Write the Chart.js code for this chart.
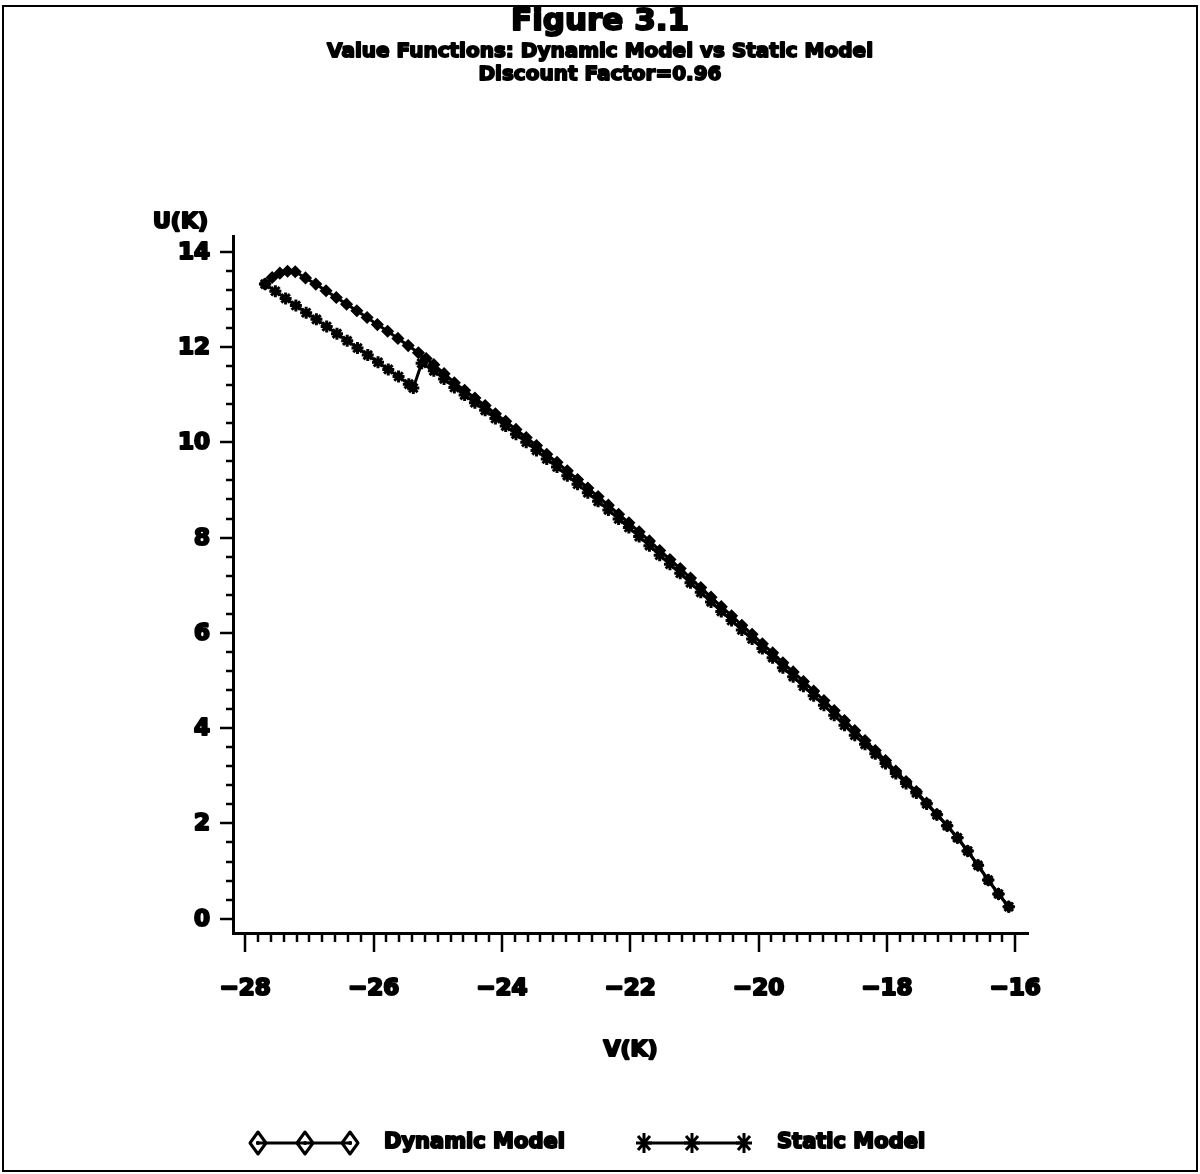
<!DOCTYPE html>
<html>
<head>
<meta charset="utf-8">
<title>Figure 3.1</title>
<script src="https://cdn.jsdelivr.net/npm/chart.js@4.4.1/dist/chart.umd.min.js"></script>
<style>
    html, body { margin: 0; padding: 0; background: #fff; }
    #wrap { width: 1200px; height: 1174px; }
</style>
</head>
<body>
<div id="wrap"><canvas id="valueChart" width="1200" height="1174"></canvas></div>
<script>
// Dynamic model: upper loop branch, then the main curve
const dynamicV = [
    -27.69, -27.58, -27.46, -27.34, -27.22, -27.06, -26.90, -26.74, -26.58, -26.42,
    -26.26, -26.10, -25.94, -25.78, -25.62, -25.46, -25.30, -25.18,
    -25.06, -24.90, -24.74, -24.58, -24.42, -24.26, -24.10, -23.94, -23.78, -23.62,
    -23.46, -23.30, -23.14, -22.98, -22.82, -22.66, -22.50, -22.34, -22.18, -22.02,
    -21.86, -21.70, -21.54, -21.38, -21.22, -21.06, -20.90, -20.74, -20.58, -20.42,
    -20.26, -20.10, -19.94, -19.78, -19.62, -19.46, -19.30, -19.14, -18.98, -18.82,
    -18.66, -18.50, -18.34, -18.18, -18.02, -17.86, -17.70, -17.54, -17.38, -17.22,
    -17.06, -16.90, -16.74, -16.58, -16.42, -16.26, -16.10,
]
const dynamicU = [
    13.32, 13.46, 13.55, 13.59, 13.58, 13.45, 13.32, 13.18, 13.04, 12.90,
    12.76, 12.62, 12.47, 12.33, 12.18, 12.03, 11.88, 11.76,
    11.63, 11.44, 11.25, 11.09, 10.93, 10.77, 10.60, 10.44, 10.27, 10.10,
    9.93, 9.75, 9.58, 9.40, 9.22, 9.04, 8.86, 8.68, 8.49, 8.31,
    8.12, 7.93, 7.73, 7.54, 7.35, 7.15, 6.95, 6.75, 6.55, 6.36,
    6.16, 5.97, 5.77, 5.58, 5.37, 5.18, 4.98, 4.78, 4.58, 4.37,
    4.16, 3.95, 3.74, 3.53, 3.32, 3.10, 2.88, 2.67, 2.43, 2.19,
    1.95, 1.70, 1.42, 1.12, 0.81, 0.52, 0.25,
]

// Static model: lower branch with the dip, then the main curve
const staticV = [
    -27.69, -27.53, -27.37, -27.21, -27.05, -26.89, -26.73, -26.57, -26.41, -26.25,
    -26.09, -25.93, -25.77, -25.61, -25.45, -25.38, -25.25,
    -25.06, -24.90, -24.74, -24.58, -24.42, -24.26, -24.10, -23.94, -23.78, -23.62,
    -23.46, -23.30, -23.14, -22.98, -22.82, -22.66, -22.50, -22.34, -22.18, -22.02,
    -21.86, -21.70, -21.54, -21.38, -21.22, -21.06, -20.90, -20.74, -20.58, -20.42,
    -20.26, -20.10, -19.94, -19.78, -19.62, -19.46, -19.30, -19.14, -18.98, -18.82,
    -18.66, -18.50, -18.34, -18.18, -18.02, -17.86, -17.70, -17.54, -17.38, -17.22,
    -17.06, -16.90, -16.74, -16.58, -16.42, -16.26, -16.10,
]
const staticU = [
    13.32, 13.17, 13.02, 12.87, 12.72, 12.58, 12.43, 12.28, 12.13, 11.98,
    11.83, 11.68, 11.53, 11.38, 11.22, 11.14, 11.66,
    11.50, 11.33, 11.15, 10.99, 10.83, 10.67, 10.50, 10.34, 10.17, 10.00,
    9.83, 9.65, 9.48, 9.30, 9.12, 8.94, 8.76, 8.58, 8.39, 8.21,
    8.02, 7.83, 7.63, 7.44, 7.25, 7.05, 6.85, 6.65, 6.45, 6.26,
    6.06, 5.87, 5.67, 5.48, 5.27, 5.08, 4.88, 4.68, 4.48, 4.27,
    4.06, 3.85, 3.66, 3.46, 3.26, 3.05, 2.84, 2.64, 2.41, 2.18,
    1.95, 1.70, 1.42, 1.12, 0.81, 0.52, 0.25,
]

const xTickValues = [-28, -26, -24, -22, -20, -18, -16]
const yTickValues = [0, 2, 4, 6, 8, 10, 12, 14]

const titleLines = [
    'Figure 3.1',
    'Value Functions: Dynamic Model vs Static Model',
    'Discount Factor=0.96',
]
const seriesNames = ['Dynamic Model', 'Static Model']

const FONT = '"DejaVu Sans", "Liberation Sans", sans-serif'

function toPoints(xs, ys) {
    return xs.map((x, i) => ({ x, y: ys[i] }))
}

function formatTick(value) {
    return value < 0 ? '\u2212' + Math.abs(value) : String(value)
}

// the print is very heavy, so fill and then stroke every label
function heavyText(ctx, text, x, y, weight) {
    ctx.lineWidth = weight
    ctx.lineJoin = 'round'
    ctx.strokeText(text, x, y)
    ctx.fillText(text, x, y)
}

// white page and the thin frame round the figure
const framePlugin = {
    id: 'frame',
    beforeDraw(chart) {
        const ctx = chart.ctx
        ctx.save()
        ctx.fillStyle = '#fff'
        ctx.fillRect(0, 0, chart.width, chart.height)
        ctx.strokeStyle = '#000'
        ctx.lineWidth = 2
        ctx.strokeRect(3, 6, chart.width - 6, chart.height - 9)
        ctx.restore()
    }
}

// titles, axis labels, tick labels, minor/major tick marks and the legend
const decorPlugin = {
    id: 'decor',
    afterDraw(chart) {
        const ctx = chart.ctx
        const xs = chart.scales.x
        const ys = chart.scales.y
        const area = chart.chartArea
        ctx.save()
        ctx.fillStyle = '#000'
        ctx.strokeStyle = '#000'
        ctx.textAlign = 'center'
        ctx.textBaseline = 'middle'

        ctx.font = 'bold 31px ' + FONT
        heavyText(ctx, titleLines[0], 600, 22, 2)
        ctx.font = 'bold 20px ' + FONT
        heavyText(ctx, titleLines[1], 600, 52, 1.8)
        heavyText(ctx, titleLines[2], 600, 75, 1.8)

        // tick marks: x every 0.2, y every 0.4
        ctx.lineWidth = 2.5
        for (let i = 0; i <= 60; i++) {
            const v = -28 + i * 0.2
            const px = Math.round(xs.getPixelForValue(v))
            const len = i % 10 === 0 ? 19 : 9
            ctx.beginPath()
            ctx.moveTo(px, area.bottom)
            ctx.lineTo(px, area.bottom + len)
            ctx.stroke()
        }
        for (let i = 0; i <= 35; i++) {
            const v = i * 0.4
            const py = Math.round(ys.getPixelForValue(v))
            const len = i % 5 === 0 ? 13 : 7
            ctx.beginPath()
            ctx.moveTo(area.left, py)
            ctx.lineTo(area.left - len, py)
            ctx.stroke()
        }

        // tick labels placed through the scales
        ctx.font = 'bold 23px ' + FONT
        xTickValues.forEach(v => {
            heavyText(ctx, formatTick(v), xs.getPixelForValue(v), 989, 2.2)
        })
        ctx.textAlign = 'right'
        yTickValues.forEach(v => {
            heavyText(ctx, formatTick(v), 210, ys.getPixelForValue(v) + 1, 2.2)
        })

        ctx.font = 'bold 22px ' + FONT
        heavyText(ctx, 'U(K)', 208, 222, 2.2)
        ctx.textAlign = 'center'
        heavyText(ctx, 'V(K)', (area.left + area.right) / 2, 1050, 2.2)

        drawLegend(ctx)
        ctx.restore()
    }
}

function drawDiamond(ctx, x, y) {
    ctx.lineWidth = 3
    ctx.beginPath()
    ctx.moveTo(x, y - 11)
    ctx.lineTo(x + 8, y)
    ctx.lineTo(x, y + 11)
    ctx.lineTo(x - 8, y)
    ctx.closePath()
    ctx.stroke()
    ctx.beginPath()
    ctx.arc(x, y, 2, 0, Math.PI * 2)
    ctx.fill()
}

function drawStar(ctx, x, y) {
    ctx.lineWidth = 3
    ctx.beginPath()
    ctx.moveTo(x, y - 10)
    ctx.lineTo(x, y + 10)
    ctx.moveTo(x - 8, y)
    ctx.lineTo(x + 8, y)
    ctx.moveTo(x - 6, y - 7)
    ctx.lineTo(x + 6, y + 7)
    ctx.moveTo(x - 6, y + 7)
    ctx.lineTo(x + 6, y - 7)
    ctx.stroke()
}

function drawLegend(ctx) {
    const y = 1143
    ctx.lineWidth = 3

    ctx.beginPath()
    ctx.moveTo(256, y)
    ctx.lineTo(352, y)
    ctx.stroke()
    ;[258, 305, 350].forEach(x => drawDiamond(ctx, x, y))

    ctx.lineWidth = 3
    ctx.beginPath()
    ctx.moveTo(644, y)
    ctx.lineTo(744, y)
    ctx.stroke()
    ;[644, 692, 744].forEach(x => drawStar(ctx, x, y))

    ctx.font = 'bold 21px ' + FONT
    ctx.textAlign = 'left'
    heavyText(ctx, seriesNames[0], 384, y, 2)
    heavyText(ctx, seriesNames[1], 777, y, 2)
}

const ctx = document.getElementById('valueChart').getContext('2d')
new Chart(ctx, {
    type: 'scatter',
    data: {
        datasets: [
            {
                label: seriesNames[0],
                data: toPoints(dynamicV, dynamicU),
                showLine: true,
                borderColor: '#000',
                borderWidth: 3,
                backgroundColor: '#000',
                pointStyle: 'rectRot',
                pointRadius: 5.5,
                pointBorderWidth: 1.5,
                pointBorderColor: '#000',
                pointBackgroundColor: '#000',
            },
            {
                label: seriesNames[1],
                data: toPoints(staticV, staticU),
                showLine: true,
                borderColor: '#000',
                borderWidth: 3,
                backgroundColor: '#000',
                pointStyle: 'star',
                pointRadius: 6,
                pointBorderWidth: 3,
                pointBorderColor: '#000',
            },
        ],
    },
    options: {
        responsive: false,
        animation: false,
        devicePixelRatio: 1,
        layout: {
            padding: { left: 153, right: 172, top: 236, bottom: 121 },
        },
        plugins: {
            legend: { display: false },
            title: { display: false },
            tooltip: { enabled: false },
        },
        scales: {
            x: {
                type: 'linear',
                min: -28.19,
                max: -15.8,
                afterBuildTicks: scale => {
                    scale.ticks = xTickValues.map(value => ({ value }))
                },
                afterFit: scale => { scale.height = 120 },
                grid: { display: true, drawOnChartArea: false, drawTicks: false },
                border: { display: true, color: '#000', width: 3 },
                ticks: { display: false },
            },
            y: {
                type: 'linear',
                min: -0.3,
                max: 14.33,
                afterBuildTicks: scale => {
                    scale.ticks = yTickValues.map(value => ({ value }))
                },
                afterFit: scale => { scale.width = 80 },
                grid: { display: true, drawOnChartArea: false, drawTicks: false },
                border: { display: true, color: '#000', width: 3 },
                ticks: { display: false },
            },
        },
    },
    plugins: [framePlugin, decorPlugin],
})
</script>
</body>
</html>
